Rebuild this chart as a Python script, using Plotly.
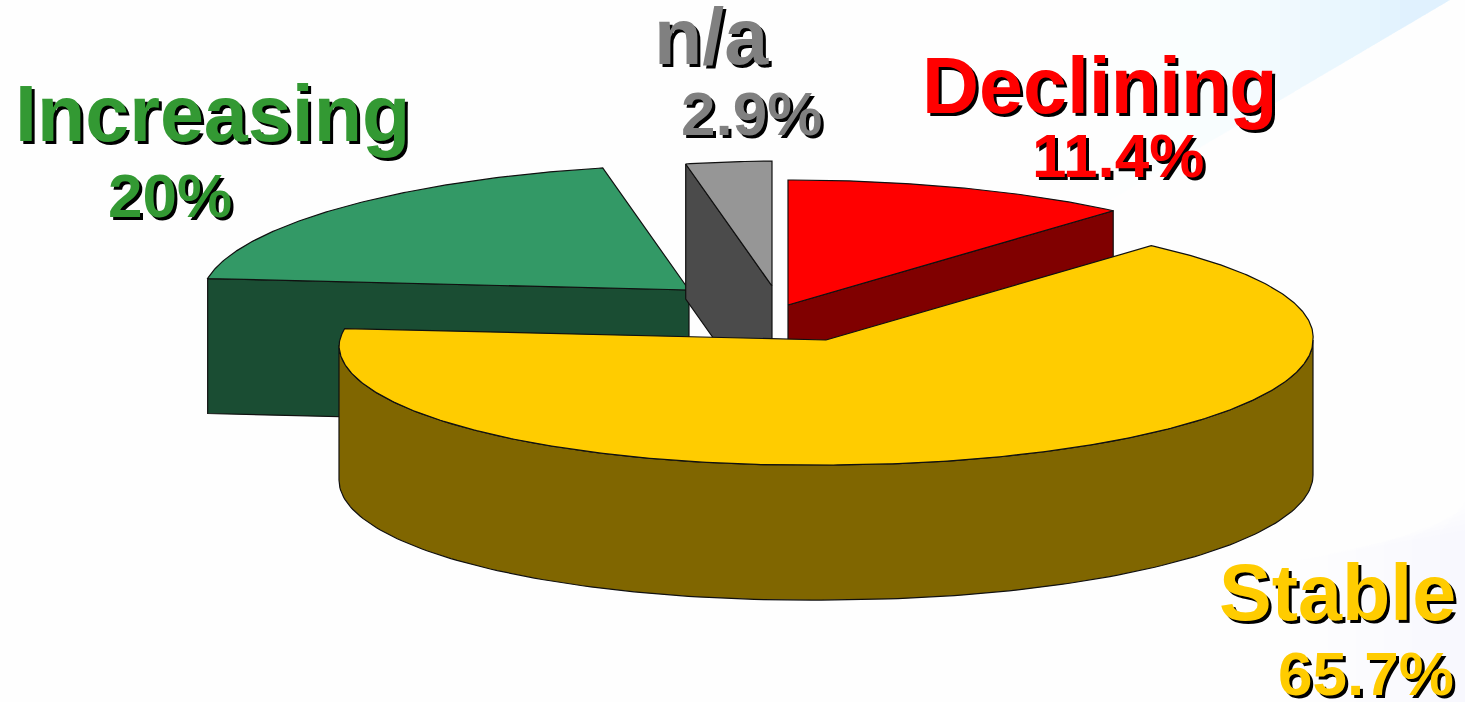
import numpy as np
import plotly.graph_objects as go

# ---- data ----
categories = ["Declining", "Stable", "Increasing", "n/a"]
shares = [11.4, 65.7, 20.0, 2.9]
share_labels = ["11.4%", "65.7%", "20%", "2.9%"]

# ---- styling ----
top_colors = ["#ff0000", "#ffcc00", "#339966", "#969696"]
wall_colors = ["#800000", "#806600", "#1a4d33", "#4b4b4b"]
text_colors = ["#ff0000", "#ffcc00", "#339933", "#808080"]

# pie projection, page pixels
W, H = 1465, 702
RX, RY, DEPTH, SHEAR, BULGE = 487.0, 125.0, 135.0, 0.0103, 5.5
apex_x = [788, 826, 689, 772]
apex_y = [305, 340, 290, 286]
wall_cut = ["end", "front", "start", "start"]
label_xy = [(1100, 85), (1337, 592), (212, 113), (711, 36)]
value_xy = [(1118, 155), (1366, 673), (170, 195), (751, 113)]
draw_order = [2, 3, 0, 1]


def rim(i, deg, drop=0.0):
    t = np.radians(np.atleast_1d(deg))
    # far half of the rim is slightly skewed by the original's perspective
    dx = RX * np.cos(t) + BULGE * np.abs(np.sin(2 * t)) * (np.sin(t) > 0)
    dy = RY * np.sin(t) - SHEAR * np.maximum(0, -RX * np.cos(t))
    return apex_x[i] + dx, apex_y[i] - dy + drop


def poly(xs, ys, fill):
    return go.Scatter(x=np.append(xs, xs[0]), y=np.append(ys, ys[0]), mode="lines",
                      fill="toself", fillcolor=fill, hoverinfo="skip", showlegend=False,
                      line=dict(color="#101010", width=1.2))


# slice angles: clockwise from 12 o'clock
ends = 90 - np.cumsum(shares) * 3.6
starts = np.append(90, ends[:-1])

fig = go.Figure()
for i in draw_order:
    a0, a1 = starts[i], ends[i]
    ax, ay = apex_x[i], apex_y[i]
    if wall_cut[i] == "front":
        ang = np.linspace(0, -180, 160)
        x1, y1 = rim(i, ang)
        x2, y2 = rim(i, ang[::-1], DEPTH)
        fig.add_trace(poly(np.r_[x1, x2], np.r_[y1, y2], wall_colors[i]))
    else:
        edge = a1 if wall_cut[i] == "end" else a0
        ex, ey = rim(i, edge)
        fig.add_trace(poly(np.r_[ax, ex, ex, ax], np.r_[ay, ey, ey + DEPTH, ay + DEPTH], wall_colors[i]))
    ang = np.linspace(a0, a1, max(int(abs(a1 - a0)) * 2, 8))
    x1, y1 = rim(i, ang)
    fig.add_trace(poly(np.r_[ax, x1], np.r_[ay, y1], top_colors[i]))

anns = []
for i, c in enumerate(categories):
    for txt, (x, y), size in ((c, label_xy[i], 79), (share_labels[i], value_xy[i], 62)):
        anns.append(dict(x=x, y=y, text=f"<b>{txt}</b>", showarrow=False, xanchor="center", yanchor="middle",
                         font=dict(family="Liberation Sans", size=size, color=text_colors[i],
                                   shadow="3px 3px 0 #000000")))

# faint template background washes built up in soft steps
shapes = []
for left in np.linspace(1100, 1400, 16):
    frac = (left - 1100) / 300
    edge_y = (1450 - left) * 0.59
    path = f"M{left:.0f},0 L1450,0 L{left:.0f},{edge_y:.0f} Z"
    shapes.append(dict(type="path", path=path, fillcolor=f"rgba(195,230,250,{0.012 + 0.055 * frac ** 1.5:.3f})",
                       line=dict(width=0), layer="below"))
for left in np.linspace(1300, 1440, 6):
    path = f"M{left:.0f},{560 - (left - 1300) * 0.2:.0f} L1465,{530 - (left - 1300) * 0.2:.0f} L1465,702 L{left:.0f},702 Z"
    shapes.append(dict(type="path", path=path, fillcolor="rgba(225,238,250,0.03)",
                       line=dict(width=0), layer="below"))

fig.update_layout(
    width=W, height=H, margin=dict(l=0, r=0, t=0, b=0),
    paper_bgcolor="#fefefe", plot_bgcolor="rgba(0,0,0,0)",
    xaxis=dict(range=[0, W], visible=False, fixedrange=True),
    yaxis=dict(range=[H, 0], visible=False, fixedrange=True),
    annotations=anns, shapes=shapes, showlegend=False,
)
fig.write_html("out.html", config={"displayModeBar": False},
               post_script="document.body.style.margin='0';document.body.style.overflow='hidden';")
